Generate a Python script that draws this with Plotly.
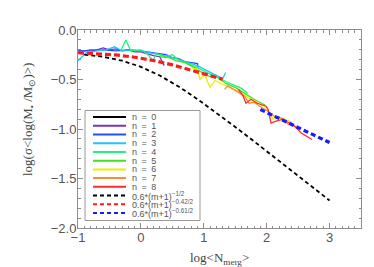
import plotly.graph_objects as go

# ---------------- data ----------------
n1_x = [-1, -0.9, -0.8, -0.7, -0.6, -0.5, -0.4, -0.3, -0.2, -0.1, 0.0, 0.1, 0.2, 0.3, 0.37]
n1_y = [-0.21, -0.21, -0.20, -0.20, -0.18, -0.20, -0.19, -0.21, -0.20, -0.22, -0.22, -0.24, -0.26, -0.27, -0.36]

n2_x = [-1, -0.8, -0.6, -0.4, -0.2, 0.0, 0.2, 0.4, 0.5, 0.6, 0.7, 0.8, 0.9, 0.91]
n2_y = [-0.21, -0.21, -0.20, -0.21, -0.20, -0.21, -0.23, -0.25, -0.28, -0.29, -0.32, -0.33, -0.34, -0.38]

n3_x = [-1, -0.87, -0.7, -0.55, -0.42, -0.3, -0.15, 0.0, 0.15, 0.3, 0.45, 0.6, 0.75, 0.9, 1.05, 1.22, 1.30, 1.35]
n3_y = [-0.31, -0.23, -0.21, -0.20, -0.17, -0.21, -0.20, -0.21, -0.23, -0.25, -0.27, -0.30, -0.33, -0.36, -0.41, -0.47, -0.49, -0.43]

n4_x = [-0.32, -0.24, -0.16, 0.0, 0.1, 0.19, 0.25, 0.4, 0.5, 0.6, 0.75, 0.9, 1.05, 1.2, 1.35, 1.5, 1.6, 1.7]
n4_y = [-0.21, -0.10, -0.21, -0.20, -0.24, -0.31, -0.24, -0.27, -0.25, -0.30, -0.34, -0.38, -0.43, -0.47, -0.52, -0.56, -0.59, -0.64]

n5_x = [0.3, 0.45, 0.55, 0.7, 0.85, 1.0, 1.1, 1.2, 1.35, 1.5, 1.65, 1.8, 1.98]
n5_y = [-0.27, -0.28, -0.31, -0.33, -0.38, -0.44, -0.47, -0.47, -0.54, -0.58, -0.64, -0.70, -0.76]

n6_x = [0.8, 0.90, 0.94, 1.01, 1.10, 1.18, 1.3, 1.45, 1.6, 1.75, 1.9, 2.0, 2.10, 2.25, 2.4]
n6_y = [-0.38, -0.40, -0.50, -0.45, -0.58, -0.51, -0.55, -0.59, -0.64, -0.70, -0.75, -0.78, -0.90, -0.89, -0.93]

n7_x = [1.33, 1.38, 1.45, 1.55, 1.65, 1.72, 1.8, 1.885, 2.0, 2.12, 2.2, 2.26, 2.34, 2.42, 2.5]
n7_y = [-0.60, -0.565, -0.59, -0.63, -0.67, -0.74, -0.73, -0.77, -0.81, -0.87, -0.88, -0.90, -0.95, -0.96, -0.99]

n8_x = [1.55, 1.62, 1.67, 1.75, 1.85, 1.99, 2.02, 2.07, 2.15, 2.26, 2.33, 2.44, 2.55, 2.63, 2.72]
n8_y = [-0.60, -0.66, -0.74, -0.70, -0.74, -0.77, -0.80, -0.94, -0.92, -0.90, -0.93, -0.97, -1.04, -1.07, -1.106]

fit_black_x = [-0.9, -0.6, -0.3, 0.0, 0.3, 0.6, 0.9, 1.2, 1.5, 1.8, 2.1, 2.4, 2.7, 3.0]
fit_black_y = [-0.248, -0.271, -0.310, -0.372, -0.460, -0.571, -0.698, -0.835, -0.979, -1.125, -1.274, -1.423, -1.572, -1.722]

fit_red_x = [-1.0, -0.7, -0.4, -0.1, 0.2, 0.5, 0.8, 1.1, 1.3]
fit_red_y = [-0.230, -0.238, -0.252, -0.275, -0.308, -0.352, -0.403, -0.460, -0.499]

fit_blue_x = [1.9, 2.2, 2.5, 2.8, 3.0]
fit_blue_y = [-0.803, -0.894, -0.985, -1.076, -1.137]

series_names = ["n = 0", "n = 1", "n = 2", "n = 3", "n = 4", "n = 5", "n = 6", "n = 7", "n = 8"]
series_colors = ["#000000", "#7434bc", "#2250ff", "#22c4ff", "#22f07c", "#44e022", "#e8f000", "#ff8a30", "#ff2a2a"]
fit_names = ["0.6*(m+1)<sup>\u22121/2</sup>", "0.6*(m+1)<sup>\u22120.42/2</sup>", "0.6*(m+1)<sup>\u22120.61/2</sup>"]
fit_colors = ["#000000", "#ff1a1a", "#1a1aff"]

# ---------------- figure ----------------
W, H = 374, 267
L, R, T, B = 70, 21, 22, 47
PW, PH = W - L - R, H - T - B

def px(xp):
    return (xp - L) / PW

def py(yp):
    return (H - B - yp) / PH

fig = go.Figure()

solid = [(n1_x, n1_y), (n2_x, n2_y), (n3_x, n3_y), (n4_x, n4_y), (n5_x, n5_y),
         (n6_x, n6_y), (n7_x, n7_y), (n8_x, n8_y)]
for i, (xs, ys) in enumerate(solid):
    fig.add_trace(go.Scatter(x=xs, y=ys, mode="lines", showlegend=False,
                             line=dict(color=series_colors[i + 1], width=1.3)))

fig.add_trace(go.Scatter(x=fit_black_x, y=fit_black_y, mode="lines", showlegend=False,
                         line=dict(color=fit_colors[0], width=1.8, dash="4px,3px")))
fig.add_trace(go.Scatter(x=fit_red_x, y=fit_red_y, mode="lines", showlegend=False,
                         line=dict(color=fit_colors[1], width=3.2, dash="6px,3px")))
fig.add_trace(go.Scatter(x=fit_blue_x, y=fit_blue_y, mode="lines", showlegend=False,
                         line=dict(color=fit_colors[2], width=3.2, dash="5px,3px")))

axis_col = "#8c8c8c"
tick_font = dict(family="Liberation Sans, Arial, sans-serif", size=13, color="#555555")

fig.update_xaxes(range=[-1, 3.5], dtick=1, tick0=-1, showgrid=False, zeroline=False,
                 showline=True, linecolor=axis_col, linewidth=1, mirror="allticks",
                 ticks="inside", ticklen=5, tickcolor=axis_col, tickwidth=1,
                 minor=dict(dtick=0.1, ticks="inside", ticklen=2.5, tickcolor=axis_col),
                 tickfont=tick_font, ticklabelstandoff=-3)
fig.update_yaxes(range=[-2, 0], dtick=0.5, tick0=0, tickformat=".1f", showgrid=False,
                 zeroline=False, showline=True, linecolor=axis_col, linewidth=1,
                 mirror="allticks", ticks="inside", ticklen=5, tickcolor=axis_col, tickwidth=1,
                 minor=dict(dtick=0.1, ticks="inside", ticklen=2.5, tickcolor=axis_col),
                 tickfont=tick_font, ticklabelstandoff=-2)

title_font = dict(family="Liberation Serif, Times New Roman, serif", size=13, color="#444444")
annotations = [
    dict(text="log&lt;N<sub>merg</sub>&gt;", xref="paper", yref="paper", x=px(211), y=py(250),
         showarrow=False, font=title_font, xanchor="center", yanchor="middle"),
    dict(text="log(\u03c3&lt;log(M<sub>\u2022</sub> /M<sub>\u2299</sub>)&gt;)", xref="paper", yref="paper",
         x=px(20), y=py(112), textangle=-90, showarrow=False, font=title_font,
         xanchor="center", yanchor="middle"),
]

shapes = []
# legend box
shapes.append(dict(type="rect", xref="paper", yref="paper", x0=px(77), x1=px(192),
                   y0=py(212.5), y1=py(102.5), line=dict(color="#999999", width=1),
                   fillcolor="white", layer="above"))
leg_font = dict(family="Liberation Sans, Arial, sans-serif", size=9, color="#555555")
row0, dy = 109.0, 8.73
labels = [s.replace(" ", "\u2002") for s in series_names] + fit_names
colors = series_colors + fit_colors
for i, (lab, col) in enumerate(zip(labels, colors)):
    yy = row0 + dy * i
    dashed = i >= 9
    shapes.append(dict(type="line", xref="paper", yref="paper", x0=px(85), x1=px(118),
                       y0=py(yy), y1=py(yy), layer="above",
                       line=dict(color=col, width=2, dash="4px,3px" if dashed else "solid")))
    annotations.append(dict(text=lab, xref="paper", yref="paper", x=px(122), y=py(yy),
                            xanchor="left", yanchor="middle", showarrow=False, font=leg_font))

fig.update_layout(width=W, height=H, margin=dict(l=L, r=R, t=T, b=B),
                  paper_bgcolor="white", plot_bgcolor="white", showlegend=False,
                  annotations=annotations, shapes=shapes)

fig.write_html("out.html", config={"displayModeBar": False})
